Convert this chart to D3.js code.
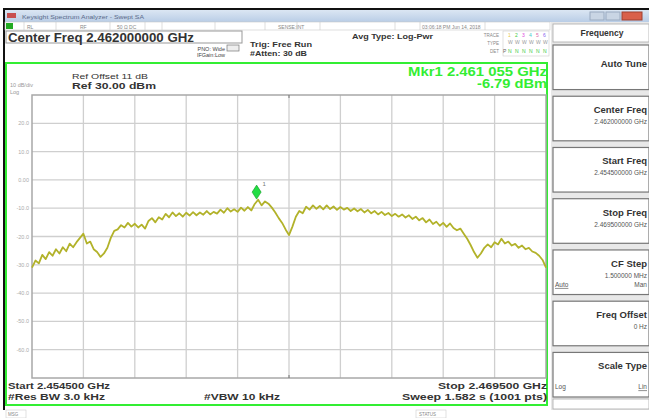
<!DOCTYPE html>
<html>
<head>
<meta charset="utf-8">
<script src="https://cdn.jsdelivr.net/npm/d3@7"></script>
<style>
  body { margin: 0; background: #fff; }
  svg { display: block; font-family: "Liberation Sans", Arial, sans-serif; }
</style>
</head>
<body>
<div id="main-container"></div>
<script>
// Sweep: 0.1 MHz steps from start to stop
const START_MHZ = 2454.5;
const STEP_MHZ = 0.1;
// Trace levels (dBm), one per sweep step
const levelDbm = [
  -31.0, -28.5, -29.5, -26.5, -28.0, -25.5, -26.8, -24.5, -26.0, -23.8,
  -25.2, -22.5, -23.8, -22.0, -20.5, -19.0, -22.5, -21.8, -24.5, -25.5,
  -27.2, -26.0, -24.0, -20.5, -18.0, -17.5, -16.0, -16.8, -15.2, -16.5,
  -15.5, -16.8, -15.8, -17.2, -14.5, -13.5, -15.0, -13.2, -14.0, -12.0,
  -13.2, -11.5, -12.8, -11.8, -13.0, -11.6, -12.6, -11.4, -12.5, -11.5,
  -12.3, -11.0, -12.2, -11.3, -11.9, -10.5, -11.6, -10.0, -11.2, -10.4,
  -11.3, -9.8, -10.9, -9.6, -10.8, -8.5, -7.0, -9.0, -7.6, -8.4,
  -9.8, -11.5, -13.5, -15.2, -17.5, -19.5, -16.5, -13.0, -11.0, -11.8,
  -9.5, -10.5, -9.0, -10.2, -9.2, -10.4, -9.0, -10.3, -9.4, -10.6,
  -9.6, -10.5, -9.9, -11.0, -10.1, -11.1, -10.3, -11.5, -10.6, -11.8,
  -11.0, -12.2, -11.3, -12.4, -11.7, -12.8, -12.0, -13.0, -12.2, -13.3,
  -12.5, -13.8, -13.0, -14.3, -13.5, -15.0, -14.0, -15.6, -14.8, -16.2,
  -15.2, -16.6, -15.4, -17.0, -17.8, -17.2, -19.0, -20.8, -23.0, -25.5,
  -27.5, -26.0, -24.0, -22.8, -23.8, -22.0, -22.8, -20.8, -22.5, -21.8,
  -23.2, -22.6, -24.0, -23.2, -24.5, -24.0, -25.3, -25.8, -26.8, -28.3,
  -31.0
];
const freqMHz = levelDbm.map((d, i) => START_MHZ + i * STEP_MHZ);

const yTickValues = [20, 10, 0, -10, -20, -30, -40, -50, -60];
const yTickLabels = ['20.0', '10.0', '0.00', '-10.0', '-20.0', '-30.0', '-40.0', '-50.0', '-60.0'];
const marker = { freq: 2461.055, level: -6.79 };

const softkeyTitles = ['Auto Tune', 'Center Freq', 'Start Freq', 'Stop Freq', 'CF Step', 'Freq Offset', 'Scale Type'];
const softkeyValues = ['', '2.462000000 GHz', '2.454500000 GHz', '2.469500000 GHz', '1.500000 MHz', '0 Hz', ''];

const W = 649, H = 418;
const PLOT = { left: 32, right: 546, top: 95, bottom: 378 };
const TRACE_COLOR = '#b2b22a';
const GREEN = '#33ee33';
const INK = '#333';

const SVG = d3.select('#main-container').append('svg')
    .attr('width', W)
    .attr('height', H);

// text helper, width forced to what the screen shows
function label(x, y, s, size, width, opts = {}) {
    const t = SVG.append('text')
        .attr('x', x).attr('y', y)
        .attr('font-size', size)
        .attr('font-weight', opts.bold ? 'bold' : 'normal')
        .attr('fill', opts.fill || INK)
        .attr('text-anchor', opts.anchor || 'start')
        .text(s);
    if (width) t.attr('textLength', width).attr('lengthAdjust', 'spacingAndGlyphs');
    return t;
}

// window frame
SVG.append('rect').attr('x', 0).attr('y', 0).attr('width', W).attr('height', H).attr('fill', '#fff');
SVG.append('rect').attr('x', 3).attr('y', 8).attr('width', W - 3).attr('height', 2).attr('fill', '#111');
SVG.append('rect').attr('x', 3).attr('y', 8).attr('width', 2).attr('height', 402).attr('fill', '#111');

// title bar
const grad = SVG.append('defs').append('linearGradient')
    .attr('id', 'tb').attr('x1', 0).attr('x2', 0).attr('y1', 0).attr('y2', 1);
grad.append('stop').attr('offset', '0%').attr('stop-color', '#dbe6f3');
grad.append('stop').attr('offset', '100%').attr('stop-color', '#b9cde6');
SVG.append('rect').attr('x', 5).attr('y', 10).attr('width', W - 5).attr('height', 12).attr('fill', 'url(#tb)');
SVG.append('rect').attr('x', 7).attr('y', 13).attr('width', 9).attr('height', 5).attr('fill', '#c85050');
label(22, 19, 'Keysight Spectrum Analyzer - Swept SA', 6, 122, { fill: '#5a6a8a' });
SVG.append('rect').attr('x', 590).attr('y', 12).attr('width', 14).attr('height', 8).attr('fill', '#c9d5e4').attr('stroke', '#9aaac0');
SVG.append('rect').attr('x', 606).attr('y', 12).attr('width', 14).attr('height', 8).attr('fill', '#c9d5e4').attr('stroke', '#9aaac0');
SVG.append('rect').attr('x', 622).attr('y', 12).attr('width', 20).attr('height', 8).attr('fill', '#d9604a').attr('stroke', '#a04030');

// status row
SVG.append('rect').attr('x', 5).attr('y', 22).attr('width', 545).attr('height', 8).attr('fill', '#fff').attr('stroke', '#c8c8c8').attr('stroke-width', 0.6);
SVG.append('rect').attr('x', 6).attr('y', 23).attr('width', 7).attr('height', 6).attr('fill', '#22aa22');
[24, 56, 110, 145, 162, 215, 265, 297, 320, 395, 420, 485].forEach(x => {
    SVG.append('line').attr('x1', x).attr('x2', x).attr('y1', 22).attr('y2', 30).attr('stroke', '#c8c8c8').attr('stroke-width', 0.6);
});
const statusText = [[27, 'RL'], [80, 'RF'], [117, '50 Ω  DC'], [278, 'SENSE:INT'], [422, '03:06:18 PM Jun 14, 2018']];
statusText.forEach(([x, t]) => label(x, 28.5, t, 5, null, { fill: '#888' }));

// header
SVG.append('rect').attr('x', 6).attr('y', 31).attr('width', 236).attr('height', 12).attr('fill', '#fff').attr('stroke', '#999').attr('stroke-width', 1);
label(8, 41.5, 'Center Freq 2.462000000 GHz', 12, 186, { bold: true });
label(225, 51, 'PNO: Wide', 5.5, null, { anchor: 'end', fill: '#444' });
label(225, 57, 'IFGain:Low', 5.5, null, { anchor: 'end', fill: '#444' });
SVG.append('rect').attr('x', 227).attr('y', 45).attr('width', 12).attr('height', 6).attr('fill', '#eee').attr('stroke', '#777').attr('stroke-width', 0.7);
label(250, 47, 'Trig: Free Run', 7, 62, { bold: true });
label(250, 56, '#Atten: 30 dB', 6.5, 57, { bold: true });
label(352, 39, 'Avg Type: Log-Pwr', 7, 81, { bold: true });
label(499, 37, 'TRACE', 4.5, null, { anchor: 'end', fill: '#888' });
label(499, 45, 'TYPE', 4.5, null, { anchor: 'end', fill: '#888' });
label(499, 53, 'DET', 4.5, null, { anchor: 'end', fill: '#888' });
SVG.append('rect').attr('x', 503).attr('y', 31).attr('width', 46).attr('height', 25).attr('fill', '#fff').attr('stroke', '#ccc').attr('stroke-width', 0.6);
const traceColors = ['#e6c84a', '#44cc44', '#dd44dd', '#44cccc', '#dd66aa', '#8866ee'];
traceColors.forEach((c, i) => {
    label(508 + i * 7, 37, String(i + 1), 5, null, { fill: c });
    label(508 + i * 7, 44, 'W', 5, null, { fill: '#999' });
    label(508 + i * 7, 53, 'N', 5, null, { fill: '#44cc44' });
});
label(503, 53, 'P', 5, null, { fill: '#666' });

// green display frame
SVG.append('rect').attr('x', 6).attr('y', 63).attr('width', 541).attr('height', 342)
    .attr('fill', 'none').attr('stroke', GREEN).attr('stroke-width', 2);

// marker readout
label(547, 75.5, 'Mkr1 2.461 055 GHz', 12, 139, { bold: true, anchor: 'end', fill: GREEN });
label(547, 88, '-6.79 dBm', 12, 70, { bold: true, anchor: 'end', fill: GREEN });

label(72, 79, 'Ref Offset 11 dB', 8, 76);
label(72, 89, 'Ref 30.00 dBm', 9.5, 84, { bold: true });
label(10, 87, '10 dB/div', 5.5, null, { fill: '#999' });
label(10, 94, 'Log', 5.5, null, { fill: '#999' });

// scales
const x = d3.scaleLinear().domain([2454.5, 2469.5]).range([PLOT.left, PLOT.right]);
const y = d3.scaleLinear().domain([-70, 30]).range([PLOT.bottom, PLOT.top]);

// grid
const gridX = d3.range(1, 10).map(i => 2454.5 + i * 1.5);
const GRID = SVG.append('g');
GRID.selectAll('line.v').data(gridX).enter().append('line')
    .attr('x1', d => x(d)).attr('x2', d => x(d))
    .attr('y1', PLOT.top).attr('y2', PLOT.bottom)
    .attr('stroke', '#cfcfcf').attr('stroke-width', 1.3);
GRID.selectAll('line.h').data(yTickValues).enter().append('line')
    .attr('x1', PLOT.left).attr('x2', PLOT.right)
    .attr('y1', d => y(d)).attr('y2', d => y(d))
    .attr('stroke', '#cfcfcf').attr('stroke-width', 1.3);
SVG.append('rect').attr('x', PLOT.left).attr('y', PLOT.top)
    .attr('width', PLOT.right - PLOT.left).attr('height', PLOT.bottom - PLOT.top)
    .attr('fill', 'none').attr('stroke', '#a8a8a8').attr('stroke-width', 1.5);

// y tick labels
SVG.append('g').selectAll('text').data(yTickValues).enter().append('text')
    .attr('x', 29).attr('y', d => y(d) + 2)
    .attr('text-anchor', 'end')
    .attr('font-size', 5.5)
    .attr('fill', '#aaa')
    .text((d, i) => yTickLabels[i]);

// center tick marks
SVG.append('line').attr('x1', x(2462)).attr('x2', x(2462)).attr('y1', PLOT.top).attr('y2', PLOT.top + 3).attr('stroke', '#777');
SVG.append('line').attr('x1', x(2462)).attr('x2', x(2462)).attr('y1', PLOT.bottom - 3).attr('y2', PLOT.bottom).attr('stroke', '#777');

// trace
const line = d3.line()
    .x((d, i) => x(freqMHz[i]))
    .y(d => y(d));
SVG.append('path')
    .datum(levelDbm)
    .attr('d', line)
    .attr('fill', 'none')
    .attr('stroke', TRACE_COLOR)
    .attr('stroke-width', 1.8)
    .attr('stroke-linejoin', 'round');

// marker diamond
const mx = x(marker.freq), my = y(marker.level);
SVG.append('path')
    .attr('d', `M${mx},${my} L${mx + 4.5},${my - 7} L${mx},${my - 14} L${mx - 4.5},${my - 7} Z`)
    .attr('fill', '#22dd44').attr('stroke', '#119922').attr('stroke-width', 0.6);
label(mx + 6, my - 13, '1', 6, null, { fill: '#777' });

// bottom annotations
label(8, 389, 'Start 2.454500 GHz', 9.5, 102, { bold: true });
label(8, 400, '#Res BW 3.0 kHz', 9.5, 97, { bold: true });
label(204, 400, '#VBW 10 kHz', 9.5, 76, { bold: true });
label(547, 389, 'Stop 2.469500 GHz', 9.5, 109, { bold: true, anchor: 'end' });
label(547, 400, 'Sweep  1.582 s (1001 pts)', 9.5, 145, { bold: true, anchor: 'end' });

// message / status boxes
SVG.append('rect').attr('x', 6).attr('y', 410).attr('width', 20).attr('height', 8).attr('fill', '#fff').attr('stroke', '#ccc').attr('stroke-width', 0.6);
label(8, 416, 'MSG', 4.5, null, { fill: '#888' });
SVG.append('rect').attr('x', 416).attr('y', 410).attr('width', 30).attr('height', 8).attr('fill', '#fff').attr('stroke', '#ccc').attr('stroke-width', 0.6);
label(419, 416, 'STATUS', 4.5, null, { fill: '#888' });

// softkey panel
const PANEL = SVG.append('g');
PANEL.append('rect').attr('x', 551).attr('y', 22).attr('width', 98).attr('height', 388).attr('fill', '#e8e8e8');
PANEL.append('rect').attr('x', 553).attr('y', 24).attr('width', 96).attr('height', 18).attr('fill', '#fff').attr('stroke', '#aaa').attr('stroke-width', 0.8);
PANEL.append('text').attr('x', 602).attr('y', 36).attr('font-size', 8.5).attr('font-weight', 'bold')
    .attr('text-anchor', 'middle').attr('fill', INK).text('Frequency');

const keyTop = d3.scaleBand().domain(softkeyTitles).range([45, 397]).paddingInner(0.13);
const keys = PANEL.selectAll('g.key').data(softkeyTitles).enter().append('g').attr('class', 'key');
keys.append('rect')
    .attr('x', 553).attr('y', d => keyTop(d))
    .attr('width', 96).attr('height', keyTop.bandwidth())
    .attr('fill', '#fff').attr('stroke', '#777').attr('stroke-width', 1.2);
keys.append('text')
    .attr('x', 647).attr('y', d => keyTop(d) + (d === 'Auto Tune' ? 22 : 17))
    .attr('text-anchor', 'end').attr('font-size', 9.5).attr('font-weight', 'bold').attr('fill', INK)
    .text(d => d);
keys.append('text')
    .attr('x', 647).attr('y', d => keyTop(d) + 28)
    .attr('text-anchor', 'end').attr('font-size', 6.5).attr('fill', '#555')
    .text((d, i) => softkeyValues[i]);
keys.filter(d => d === 'CF Step').append('text')
    .attr('x', 647).attr('y', d => keyTop(d) + 37)
    .attr('text-anchor', 'end').attr('font-size', 6.5).attr('fill', '#555').text('Man');
keys.filter(d => d === 'CF Step').append('text')
    .attr('x', 555).attr('y', d => keyTop(d) + 37)
    .attr('font-size', 6.5).attr('fill', '#555').attr('text-decoration', 'underline').text('Auto');
keys.filter(d => d === 'Scale Type').append('text')
    .attr('x', 555).attr('y', d => keyTop(d) + 37)
    .attr('font-size', 6.5).attr('fill', '#555').text('Log');
keys.filter(d => d === 'Scale Type').append('text')
    .attr('x', 647).attr('y', d => keyTop(d) + 37)
    .attr('text-anchor', 'end').attr('font-size', 6.5).attr('fill', '#555').attr('text-decoration', 'underline').text('Lin');
PANEL.append('rect').attr('x', 553).attr('y', 399).attr('width', 96).attr('height', 10).attr('fill', '#fff').attr('stroke', '#aaa').attr('stroke-width', 0.8);
</script>
</body>
</html>
